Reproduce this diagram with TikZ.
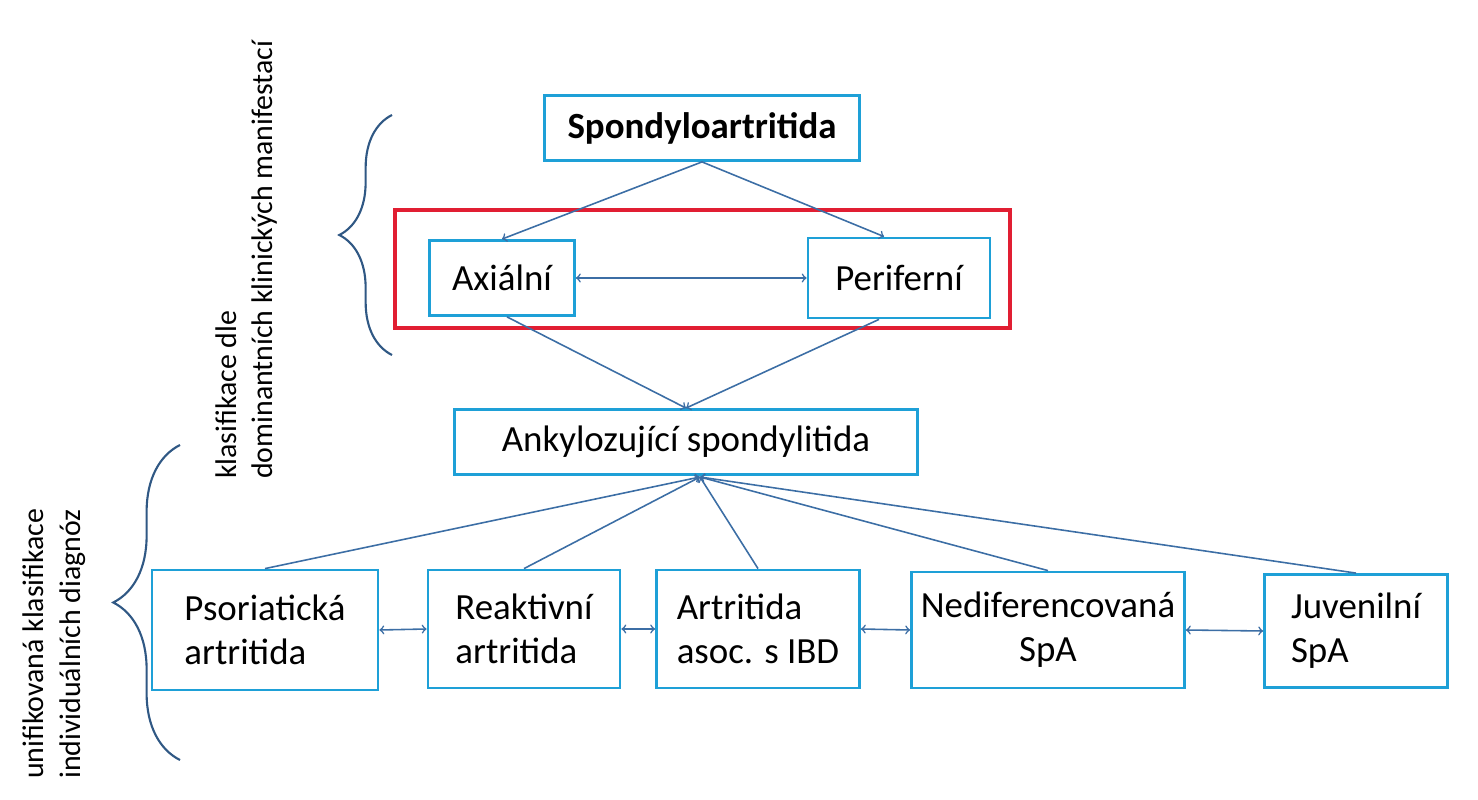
\documentclass[tikz,border=0pt]{standalone}
\usepackage{fontspec}
\setmainfont{Carlito}
\usetikzlibrary{decorations.pathreplacing}
\definecolor{boxcyan}{RGB}{30,160,215}
\definecolor{arrblue}{RGB}{60,110,165}
\definecolor{redframe}{RGB}{225,30,50}
\tikzset{
  box/.style={draw=boxcyan, line width=1.6pt, rectangle, font=\fontsize{21}{25}\selectfont, inner sep=0pt},
  arr/.style={draw=arrblue, line width=0.9pt, ->},
  darr/.style={draw=arrblue, line width=0.9pt, <->},
  brace/.style={draw=arrblue!80!black, line width=1.2pt, decorate, decoration={brace, amplitude=#1}},
  side/.style={rotate=90, align=left, font=\fontsize{17}{21}\selectfont}
}
\begin{document}
\begin{tikzpicture}[x=0.02cm, y=-0.02cm]
  \useasboundingbox (0,0) rectangle (1478,800);

  \node [box, minimum width=315*0.02cm, minimum height=65*0.02cm] (spa) at (702,128) {\textbf{Spondyloartritida}};
  \draw [redframe, line width=2.6pt] (395,210) rectangle (1010,328);
  \node [box, minimum width=145*0.02cm, minimum height=75*0.02cm] (ax) at (502,278) {Axiální};
  \node [box, minimum width=182*0.02cm, minimum height=80*0.02cm] (per) at (899,278) {Periferní};
  \node [box, minimum width=463*0.02cm, minimum height=65*0.02cm] (as) at (686,442) {Ankylozující spondylitida};

  \node [box, minimum width=226*0.02cm, minimum height=120*0.02cm, align=left] (pso) at (265,630) {Psoriatická\\artritida};
  \node [box, minimum width=192*0.02cm, minimum height=118*0.02cm, align=left] (rea) at (524,629) {Reaktivní\\artritida};
  \node [box, minimum width=203*0.02cm, minimum height=118*0.02cm, align=left] (ibd) at (758,629) {Artritida\\asoc. s IBD};
  \node [box, minimum width=273*0.02cm, minimum height=116*0.02cm, align=center] (ned) at (1048,630) {Nediferencovaná\\SpA};
  \node [box, minimum width=183*0.02cm, minimum height=113*0.02cm, align=left] (juv) at (1356,631) {Juvenilní\\SpA};

  % upper part
  \draw [arr] (spa.south) -- (ax.north);
  \draw [arr] (spa.south) -- ([xshift=-0.3cm]per.north);
  \draw [darr] (ax.east) -- (per.west);
  \draw [arr] ([xshift=0.1cm]ax.south) -- (as.north);
  \draw [arr] ([xshift=-0.4cm]per.south) -- (as.north);

  % lower part
  \coordinate (hub) at (700,477);
  \foreach \n in {pso,rea,ibd,ned,juv}
    \draw [arr] (\n.north) -- (hub);
  \draw [darr] (pso.east) -- (rea.west);
  \draw [darr] (rea.east) -- (ibd.west);
  \draw [darr] (ibd.east) -- (ned.west);
  \draw [darr] (ned.east) -- (juv.west);

  % braces
  \draw [brace=30pt] (392,355) -- (392,115);
  \draw [brace=38pt] (180,760) -- (180,445);
  \node [side, anchor=south west] at (284,485) {klasifikace dle\\dominantních klinických manifestací};
  \node [side, anchor=south west] at (92,785) {unifikovaná klasifikace\\individuálních diagnóz};
\end{tikzpicture}
\end{document}
